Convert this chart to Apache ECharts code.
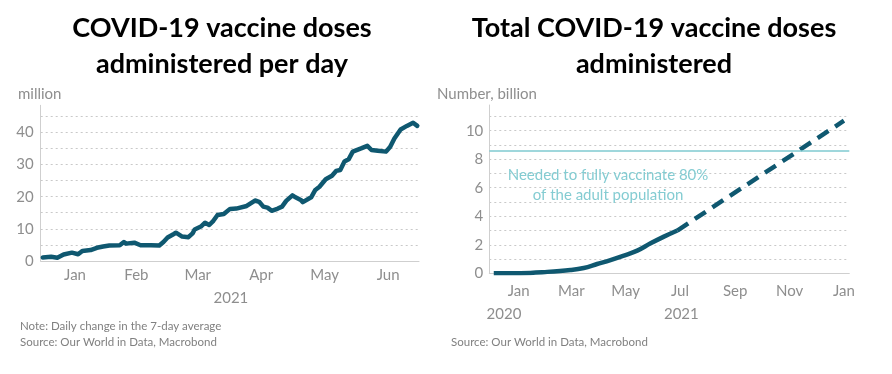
<!DOCTYPE html>
<html><head><meta charset="utf-8">
<script src="https://cdn.jsdelivr.net/npm/echarts@6/dist/echarts.min.js"></script>
<style>html,body{margin:0;padding:0;background:#fff}#c{width:892px;height:374px}</style>
</head><body><div id="c"></div>
<script>
// ---------- data ----------
const leftDates = ['2021-01-01','2021-01-05','2021-01-08','2021-01-11','2021-01-15','2021-01-18','2021-01-20','2021-01-24','2021-01-27','2021-01-30',
  '2021-02-02','2021-02-07','2021-02-09','2021-02-10','2021-02-14','2021-02-17','2021-02-22','2021-02-26','2021-02-28',
  '2021-03-02','2021-03-05','2021-03-06','2021-03-09','2021-03-12','2021-03-14','2021-03-15','2021-03-18','2021-03-20','2021-03-22','2021-03-24','2021-03-26','2021-03-29',
  '2021-04-01','2021-04-04','2021-04-09','2021-04-13','2021-04-15','2021-04-17','2021-04-19','2021-04-21','2021-04-24','2021-04-26','2021-04-28',
  '2021-05-01','2021-05-02','2021-05-05','2021-05-06','2021-05-10','2021-05-12','2021-05-14','2021-05-17','2021-05-20','2021-05-22','2021-05-24','2021-05-26','2021-05-28','2021-05-30',
  '2021-06-03','2021-06-06','2021-06-08','2021-06-11','2021-06-15','2021-06-17','2021-06-19','2021-06-22','2021-06-25','2021-06-28','2021-06-30'];
const leftValues = [1.1,1.3,1.0,2.0,2.6,2.1,3.1,3.4,4.1,4.5,
  4.8,4.9,5.9,5.4,5.7,4.9,4.9,4.8,5.9,
  7.3,8.4,8.8,7.6,7.4,8.6,9.8,10.7,11.9,11.2,12.5,14.3,14.6,
  16.2,16.3,17.1,18.8,18.4,16.9,16.6,15.6,16.3,16.9,18.7,
  20.4,20.0,19.0,18.3,19.8,22.1,23.1,25.4,26.5,28.0,28.3,30.9,31.6,34.0,
  35.0,35.8,34.5,34.3,34.0,35.5,38.1,40.9,42.0,43.0,42.0];
const leftMonthLabels = ['2021-01','2021-02','2021-03','2021-04','2021-05','2021-06'];
const leftYearLabels = ['2021'];
const leftYTicks = [0,10,20,30,40];

const rightDates = ['2020-12-04','2021-01-03','2021-02-02','2021-02-28','2021-03-15','2021-03-30','2021-04-14','2021-04-29','2021-05-14','2021-05-29','2021-06-13','2021-06-28'];
const rightValues = [0,0.01,0.1,0.23,0.37,0.65,0.93,1.24,1.59,2.1,2.57,3.0];
const projDates = ['2021-06-28','2022-01-01'];
const projValues = [3.0,10.7];
const targetValue = 8.6;
const rightMonthLabels = ['2021-01','2021-03','2021-05','2021-07','2021-09','2021-11','2022-01'];
const rightYearLabels = ['2020','2021'];
const rightYTicks = [0,2,4,6,8,10];

// ---------- helpers ----------
const MONTHS = ['Jan','Feb','Mar','Apr','May','Jun','Jul','Aug','Sep','Oct','Nov','Dec'];
const t = s => { const p = s.split('-').map(Number); return Date.UTC(p[0], p[1]-1, p[2]||1); };
const monthMid = s => { const p = s.split('-').map(Number); return (Date.UTC(p[0],p[1]-1,1)+Date.UTC(p[0],p[1],1))/2; };
const fmtMonth = v => MONTHS[new Date(v).getUTCMonth()];
const fmtYear = v => String(new Date(v).getUTCFullYear());
const yearCenter = (y, lo, hi) => (Math.max(lo, Date.UTC(+y,0,1)) + Math.min(hi, Date.UTC(+y+1,0,1)))/2;

const L_MIN = t('2020-12-31'), L_MAX = t('2021-06-30') + 20*3600e3;
const R_MIN = t('2020-11-29'), R_MAX = t('2022-01-07');

const LINE = '#0f5870', GRID = '#c9c9c9', AX = '#cfcfcf', LBL = '#8e8e8e', FONT = 'Lato';

const yBase = (max, interval, ticks, margin) => ({
  type:'value', min:0, max:max, interval:interval,
  axisLine:{show:true, lineStyle:{color:AX, width:1}},
  axisTick:{show:false},
  axisLabel:{color:LBL, fontSize:15, fontFamily:FONT, margin:margin, showMaxLabel:false,
    formatter: v => ticks.indexOf(v) >= 0 ? String(v) : ''},
  splitLine:{show:true, showMinLine:false, showMaxLine:false, lineStyle:{color:GRID, type:[2,3], width:1}}
});
const xBase = (grid, lo, hi, values, fmt, margin, extra) => Object.assign({
  type:'value', gridIndex:grid, min:lo, max:hi, scale:true,
  axisLine:{show:true, lineStyle:{color:AX}}, axisTick:{show:false}, splitLine:{show:false},
  axisLabel:{customValues:values, formatter:fmt, color:LBL, fontSize:15, fontFamily:FONT, margin:margin, hideOverlap:false,
    showMinLabel:true, showMaxLabel:true}
}, extra || {});
const txt = (o) => Object.assign({padding:0}, o);

const chart = echarts.init(document.getElementById('c'), null, {renderer:'canvas'});
chart.setOption({
  animation:false,
  backgroundColor:'#fff',
  title:[
    txt({text:'COVID-19 vaccine doses\nadministered per day', left:222, top:10, textAlign:'center',
      textStyle:{fontFamily:FONT, fontWeight:'bold', fontSize:27, lineHeight:36, color:'#000'}}),
    txt({text:'Total COVID-19 vaccine doses\nadministered', left:654, top:10, textAlign:'center',
      textStyle:{fontFamily:FONT, fontWeight:'bold', fontSize:27, lineHeight:36, color:'#000'}}),
    txt({text:'million', left:18, top:87, textStyle:{fontFamily:FONT, fontWeight:'normal', fontSize:15, color:LBL}}),
    txt({text:'Number, billion', left:437, top:87, textStyle:{fontFamily:FONT, fontWeight:'normal', fontSize:15, color:LBL}}),
    txt({text:'Needed to fully vaccinate 80%\nof the adult population', left:608, top:165, textAlign:'center',
      textStyle:{fontFamily:FONT, fontWeight:'normal', fontSize:15, lineHeight:20, color:'#84ccd2'}}),
    txt({text:'Note: Daily change in the 7-day average\nSource: Our World in Data, Macrobond', left:20, top:318,
      textStyle:{fontFamily:FONT, fontWeight:'normal', fontSize:11.5, lineHeight:16, color:'#808080'}}),
    txt({text:'Source: Our World in Data, Macrobond', left:451, top:334,
      textStyle:{fontFamily:FONT, fontWeight:'normal', fontSize:11.5, lineHeight:16, color:'#808080'}})
  ],
  grid:[
    {left:40.7, top:105.3, width:378.3, height:155.7},
    {left:489.3, top:105, width:360, height:168.3}
  ],
  xAxis:[
    xBase(0, L_MIN, L_MAX, leftMonthLabels.map(monthMid), fmtMonth, 7),
    xBase(0, L_MIN, L_MAX, leftYearLabels.map(y => yearCenter(y, L_MIN, L_MAX)), fmtYear, 6, {position:'bottom', offset:24, axisLine:{show:false}}),
    xBase(1, R_MIN, R_MAX, rightMonthLabels.map(t), fmtMonth, 10),
    xBase(1, R_MIN, R_MAX, rightYearLabels.map(y => yearCenter(y, R_MIN, R_MAX)), fmtYear, 10, {position:'bottom', offset:23, axisLine:{show:false}})
  ],
  yAxis:[
    Object.assign({gridIndex:0}, yBase(48.4, 5, leftYTicks, 7)),
    Object.assign({gridIndex:1}, yBase(11.8, 1, rightYTicks, 6))
  ],
  series:[
    {type:'line', xAxisIndex:0, yAxisIndex:0, showSymbol:false, symbol:'none',
      data:leftDates.map((d,i) => [t(d), leftValues[i]]),
      lineStyle:{color:LINE, width:4.5, join:'round', cap:'round'}},
    {type:'line', xAxisIndex:2, yAxisIndex:1, showSymbol:false, symbol:'none', smooth:0.4,
      data:rightDates.map((d,i) => [t(d), rightValues[i]]),
      lineStyle:{color:LINE, width:4.5, cap:'butt'},
      markLine:{silent:true, symbol:['none','none'], label:{show:false},
        lineStyle:{color:'#7fcad0', width:1.5, type:'solid'}, data:[{yAxis:targetValue}]}},
    {type:'line', xAxisIndex:2, yAxisIndex:1, showSymbol:false, symbol:'none',
      data:projDates.map((d,i) => [t(d), projValues[i]]),
      lineStyle:{color:LINE, width:4.5, type:[13,8], cap:'butt'}}
  ]
});
</script></body></html>
